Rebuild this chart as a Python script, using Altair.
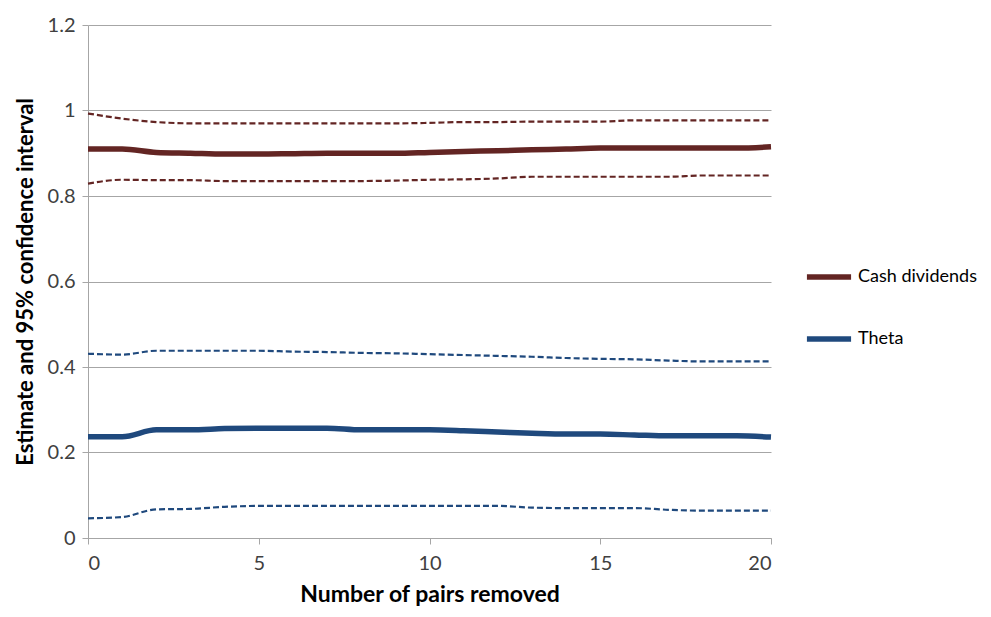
import altair as alt
import pandas as pd

x = list(range(21))

cash_est = [0.910, 0.910, 0.902, 0.900, 0.898, 0.898, 0.899, 0.900, 0.900, 0.900,
            0.902, 0.904, 0.906, 0.908, 0.910, 0.912, 0.912, 0.912, 0.912, 0.912, 0.915]
cash_upper = [0.993, 0.981, 0.973, 0.970, 0.970, 0.970, 0.970, 0.970, 0.970, 0.970,
              0.971, 0.973, 0.973, 0.974, 0.974, 0.974, 0.977, 0.977, 0.977, 0.977, 0.977]
cash_lower = [0.829, 0.838, 0.837, 0.837, 0.835, 0.835, 0.835, 0.835, 0.835, 0.836,
              0.838, 0.839, 0.841, 0.845, 0.845, 0.845, 0.845, 0.845, 0.848, 0.848, 0.848]

theta_est = [0.237, 0.237, 0.253, 0.253, 0.256, 0.257, 0.257, 0.257, 0.253, 0.253,
             0.253, 0.251, 0.248, 0.245, 0.243, 0.243, 0.241, 0.239, 0.239, 0.239, 0.236]
theta_upper = [0.431, 0.429, 0.438, 0.438, 0.438, 0.438, 0.436, 0.435, 0.433, 0.432,
               0.430, 0.428, 0.426, 0.424, 0.421, 0.419, 0.418, 0.415, 0.413, 0.413, 0.413]
theta_lower = [0.046, 0.049, 0.067, 0.068, 0.073, 0.075, 0.075, 0.075, 0.075, 0.075,
               0.075, 0.075, 0.075, 0.071, 0.070, 0.070, 0.070, 0.066, 0.064, 0.064, 0.064]

series_names = ["Cash dividends", "Theta"]
series_colors = ["#632523", "#1F497D"]

rows = []
for name, est, up, lo in [
    ("Cash dividends", cash_est, cash_upper, cash_lower),
    ("Theta", theta_est, theta_upper, theta_lower),
]:
    for i, xv in enumerate(x):
        rows.append({"x": xv, "value": est[i], "series": name, "kind": "estimate"})
        rows.append({"x": xv, "value": up[i], "series": name, "kind": "upper"})
        rows.append({"x": xv, "value": lo[i], "series": name, "kind": "lower"})
df = pd.DataFrame(rows)

FONT = "Lato"

xenc = alt.X("x:Q", scale=alt.Scale(domain=[0, 20], nice=False),
             axis=alt.Axis(values=[0, 5, 10, 15, 20], title="Number of pairs removed",
                           grid=False, tickSize=6, labelPadding=9, titlePadding=10,
                           domainColor="#A6A6A6", tickColor="#A6A6A6",
                           labelFontSize=20, titleFontSize=23, titleFontWeight="bold"))
yenc = alt.Y("value:Q", scale=alt.Scale(domain=[0, 1.2], nice=False),
             axis=alt.Axis(values=[0, 0.2, 0.4, 0.6, 0.8, 1.0, 1.2], title="Estimate and 95% confidence interval",
                           format="~g", grid=True, gridColor="#A6A6A6", tickSize=6, labelPadding=7,
                           titlePadding=10, domainColor="#A6A6A6", tickColor="#A6A6A6",
                           labelFontSize=20, titleFontSize=22, titleFontWeight="bold"))

color_scale = alt.Scale(domain=series_names, range=series_colors)

legend = alt.Legend(title=None, orient="none", legendX=716, legendY=227,
                    symbolType="stroke", symbolStrokeWidth=5.5, symbolSize=1950,
                    symbolDash=[1, 0], labelFontSize=18, labelOffset=4, rowPadding=26,
                    labelColor="#000000", labelLimit=300)

main = alt.Chart(df).transform_filter(alt.datum.kind == "estimate").mark_line(
    strokeWidth=5.5, interpolate="monotone", strokeCap="butt"
).encode(
    x=xenc, y=yenc,
    color=alt.Color("series:N", scale=color_scale, legend=legend),
)

bounds = alt.Chart(df).transform_filter(alt.datum.kind != "estimate").mark_line(
    strokeWidth=2.2, strokeDash=[6, 3], interpolate="monotone"
).encode(
    x=xenc, y=yenc,
    color=alt.Color("series:N", scale=color_scale, legend=legend),
    detail="kind:N",
)

chart = alt.layer(main, bounds).properties(
    width=683, height=513,
    autosize=alt.AutoSizeParams(type="none"),
    padding={"left": 80, "top": 17, "right": 212, "bottom": 70},
).configure_view(stroke=None).configure_axis(
    labelFont=FONT, titleFont=FONT, labelColor="#404040", titleColor="#000000"
).configure_legend(labelFont=FONT)

chart.save("out.html", embed_options={"renderer": "svg", "actions": False})
